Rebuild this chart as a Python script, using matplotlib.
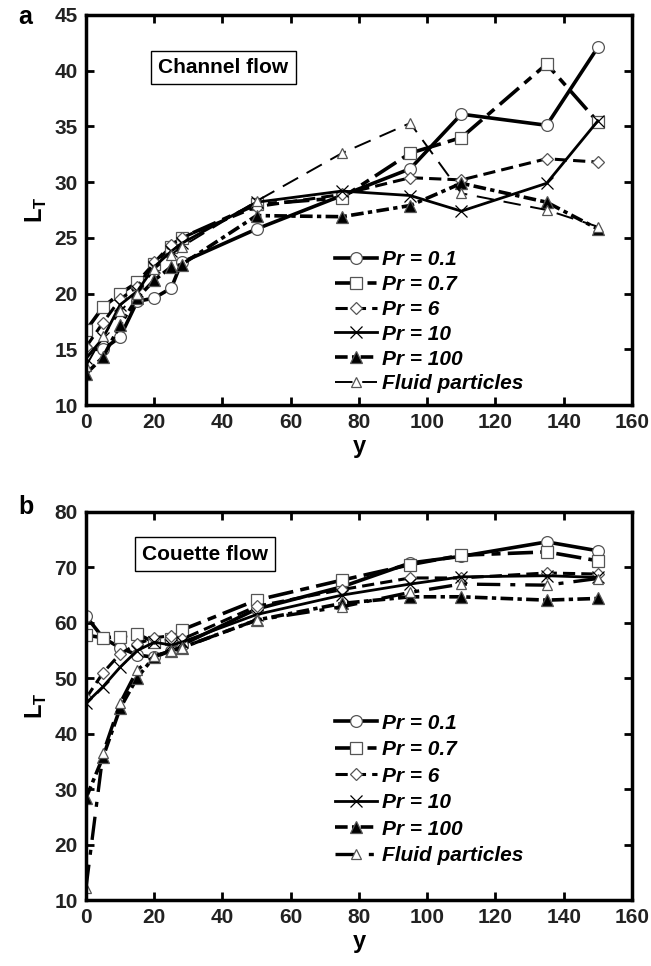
import matplotlib
matplotlib.use("Agg")
import matplotlib.pyplot as plt

plt.rcParams['font.family'] = ['Liberation Sans', 'DejaVu Sans']
plt.rcParams['font.weight'] = 'bold'
plt.rcParams['mathtext.fontset'] = 'custom'
plt.rcParams['mathtext.rm'] = 'Liberation Sans:bold'
plt.rcParams['mathtext.bf'] = 'Liberation Sans:bold'

# ---------------- data ----------------
y_pos = [0, 5, 10, 15, 20, 25, 28, 50, 75, 95, 110, 135, 150]
labels = ["Pr = 0.1", "Pr = 0.7", "Pr = 6", "Pr = 10", "Pr = 100", "Fluid particles"]

chan_pr01 = [15.0, 15.0, 16.1, 19.3, 19.6, 20.5, 22.8, 25.8, 28.8, 31.2, 36.1, 35.1, 42.1]
chan_pr07 = [16.7, 18.8, 20.0, 21.0, 22.7, 24.2, 25.0, 28.0, 28.6, 32.6, 34.0, 40.6, 35.4]
chan_pr6 = [15.2, 17.4, 19.5, 20.6, 22.8, 24.4, 25.0, 27.8, 28.9, 30.4, 30.2, 32.1, 31.8]
chan_pr10 = [14.2, 16.0, 19.0, 20.2, 22.4, 23.8, 24.5, 28.2, 29.2, 28.8, 27.4, 29.9, 35.5]
chan_pr100 = [12.8, 14.3, 17.2, 19.6, 21.2, 22.4, 22.6, 27.0, 26.9, 27.9, 29.9, 28.2, 25.8]
chan_fluid = [13.5, 16.2, 18.4, 20.0, 22.2, 23.5, 24.2, 28.3, 32.6, 35.3, 29.0, 27.5, 26.0]

cou_pr01 = [61.2, 57.3, 55.5, 54.2, 53.8, 55.0, 56.0, 62.5, 66.5, 70.8, 72.0, 74.6, 73.0]
cou_pr07 = [57.8, 57.3, 57.5, 58.0, 56.5, 57.0, 58.7, 64.1, 67.7, 70.5, 72.2, 72.8, 71.2]
cou_pr6 = [46.4, 51.0, 54.4, 56.2, 57.3, 57.7, 57.0, 63.0, 66.0, 68.1, 68.1, 69.0, 68.8]
cou_pr10 = [45.5, 48.5, 52.0, 55.0, 56.5, 56.0, 56.5, 61.5, 65.0, 67.0, 68.3, 68.5, 68.2]
cou_pr100 = [28.4, 35.8, 44.6, 50.1, 53.9, 55.0, 55.5, 60.5, 63.5, 64.7, 64.7, 64.1, 64.4]
cou_fluid = [12.2, 36.5, 45.5, 51.5, 54.0, 55.0, 55.5, 60.5, 62.9, 65.5, 67.0, 66.8, 68.0]

x_ticks = [0, 20, 40, 60, 80, 100, 120, 140, 160]
chan_yticks = [10, 15, 20, 25, 30, 35, 40, 45]
cou_yticks = [10, 20, 30, 40, 50, 60, 70, 80]

# ---------------- styles ----------------
def styles(bottom):
    fl_lw = 2.4 if bottom else 1.4
    fl_ls = (0, (7, 3, 1.5, 3)) if bottom else (0, (9, 5))
    return [
        dict(ls='-', lw=2.6, marker='o', mfc='white', ms=8.5),
        dict(ls=(0, (7, 2, 2.5, 2)), lw=2.6, marker='s', mfc='white', ms=8),
        dict(ls=(0, (4, 2)), lw=2.2, marker='D', mfc='white', ms=6),
        dict(ls='-', lw=2.0, marker='x', mfc='white', ms=8.5),
        dict(ls=(0, (3.5, 1.2, 1.2, 1.2)), lw=2.6, marker='^', mfc='black', ms=8.5),
        dict(ls=fl_ls, lw=fl_lw, marker='^', mfc='white', ms=7),
    ]

fig = plt.figure(figsize=(6.51, 9.66), dpi=100)
ax1 = fig.add_axes([0.1321, 0.5807, 0.8387, 0.4038])
ax2 = fig.add_axes([0.1321, 0.0683, 0.8387, 0.4017])

def draw(ax, series, bottom, ylim, yticks, title, title_xy, leg_y, spacing):
    for vals, lab, st in zip(series, labels, styles(bottom)):
        mec = 'black' if st['marker'] == 'x' else '#555555'
        ax.plot(y_pos, vals, color='black', linestyle=st['ls'], lw=st['lw'],
                marker=st['marker'], markerfacecolor=st['mfc'],
                markeredgecolor=mec, markeredgewidth=0.9, markersize=st['ms'],
                label=lab)
    ax.set_xlim(0, 160)
    ax.set_ylim(*ylim)
    ax.set_xticks(x_ticks)
    ax.set_yticks(yticks)
    for s in ax.spines.values():
        s.set_linewidth(2.5)
    ax.tick_params(direction='in', length=6, width=2, top=True, right=True,
                   labelsize=15, pad=6)
    for t in ax.get_xticklabels() + ax.get_yticklabels():
        t.set_fontweight('bold')
        t.set_color('#222222')
    ax.set_xlabel('y', fontsize=17, fontweight='bold', labelpad=2)
    ax.set_ylabel(r'L$_{\mathrm{T}}$', fontsize=17, fontweight='bold', labelpad=4)
    ax.text(title_xy[0], title_xy[1], title, fontsize=15, fontweight='bold',
            ha='center', va='center', transform=ax.transData,
            bbox=dict(boxstyle='square,pad=0.35', fc='white', ec='black', lw=1))
    leg = ax.legend(loc='lower left', bbox_to_anchor=(0.456, leg_y), frameon=False,
                    prop=dict(size=15, weight='bold', style='italic'),
                    handlelength=2.0, handletextpad=0.25, labelspacing=spacing,
                    borderaxespad=0, borderpad=0)
    return leg

draw(ax1, [chan_pr01, chan_pr07, chan_pr6, chan_pr10, chan_pr100, chan_fluid],
     False, (10, 45), chan_yticks, 'Channel flow', (40.2, 40.3), 0.03, 0.28)
draw(ax2, [cou_pr01, cou_pr07, cou_pr6, cou_pr10, cou_pr100, cou_fluid],
     True, (10, 80), cou_yticks, 'Couette flow', (34.9, 72.4), 0.09, 0.36)

fig.text(18 / 651, 1 - 17 / 966, 'a', fontsize=18, fontweight='bold', va='center')
fig.text(18 / 651, 1 - 507 / 966, 'b', fontsize=18, fontweight='bold', va='center')

fig.savefig('out.png', dpi=100)
